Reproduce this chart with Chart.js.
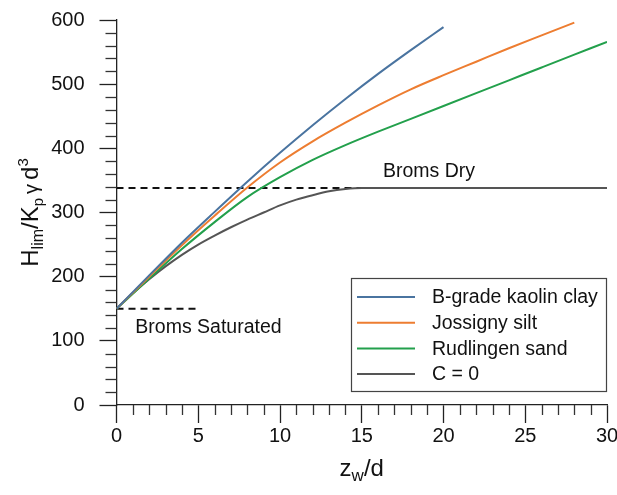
<!DOCTYPE html>
<html><head><meta charset="utf-8">
<script src="https://cdn.jsdelivr.net/npm/chart.js@4/dist/chart.umd.min.js"></script>
<style>html,body{margin:0;padding:0;background:#fff}#wrap{width:617px;height:495px;position:relative}</style>
</head><body><div id="wrap"><canvas id="c" width="617" height="495"></canvas></div>
<script>
// ---- data ----
const seriesNames = ['B-grade kaolin clay', 'Jossigny silt', 'Rudlingen sand', 'C = 0'];
const clayX = [0, 2, 4, 6, 8, 10, 12, 14, 16, 18, 20];
const clayY = [150, 202, 253, 301, 348, 393, 436, 477, 516, 553, 589];
const siltX = [0, 2, 4, 6, 8, 10, 12, 14, 16, 18, 20, 22, 24, 26, 28];
const siltY = [150, 200, 249, 295, 339, 378, 411, 440, 467, 492, 514, 535, 556, 576, 596];
const sandX = [0, 2, 4, 6, 8, 10, 12, 14, 16, 18, 20, 22, 24, 26, 28, 30];
const sandY = [150, 197, 243, 285, 324, 355, 382, 405, 426, 446, 466, 486, 506, 526, 546, 566];
const c0X = [0, 1, 2, 3, 4, 5, 6, 7, 8, 9, 10, 11, 12, 13, 14, 15, 16, 30];
const c0Y = [150, 174, 196, 216, 234, 250, 264, 277, 289, 300, 311, 320, 327, 333, 336.5, 338, 338, 338];
const bromsDryX = [0, 30];
const bromsDryY = [338, 338];
const bromsSatX = [0, 5];
const bromsSatY = [150, 150];
const xTickValues = [0, 5, 10, 15, 20, 25, 30];
const yTickValues = [0, 100, 200, 300, 400, 500, 600];
const bromsDryLabel = {text: 'Broms Dry', x: 16.3, y: 364};
const bromsSatLabel = {text: 'Broms Saturated', x: 1.15, y: 120};

const colors = ['#4a74a0', '#ed7d31', '#23a04c', '#555555'];
const FONT = 'Liberation Sans, Arial, sans-serif';
const toPts = (xs, ys) => xs.map((x, i) => ({x: x, y: ys[i]}));

const curveDs = (i, xs, ys) => ({
  label: seriesNames[i], data: toPts(xs, ys), borderColor: colors[i], backgroundColor: colors[i],
  borderWidth: 2, pointRadius: 0, fill: false, cubicInterpolationMode: 'monotone', order: 1
});
const dashDs = (xs, ys) => ({
  label: '', data: toPts(xs, ys), borderColor: '#111', borderWidth: 2, borderDash: [7, 5],
  pointRadius: 0, fill: false, order: 5
});

const decor = {
  id: 'decor',
  afterDraw(chart) {
    const ctx = chart.ctx, xs = chart.scales.x, ys = chart.scales.y, ca = chart.chartArea;
    ctx.save();
    // minor ticks
    ctx.strokeStyle = '#333'; ctx.lineWidth = 1.3;
    for (let v = 0; v <= 30; v++) {
      if (v % 5 === 0) continue;
      const px = Math.round(xs.getPixelForValue(v)) + 0.5;
      ctx.beginPath(); ctx.moveTo(px, ca.bottom); ctx.lineTo(px, ca.bottom + 10); ctx.stroke();
    }
    for (let v = 0; v <= 600; v += 20) {
      if (v % 100 === 0) continue;
      const py = Math.round(ys.getPixelForValue(v)) + 0.5;
      ctx.beginPath(); ctx.moveTo(ca.left, py); ctx.lineTo(ca.left - 11, py); ctx.stroke();
    }
    // annotations
    ctx.fillStyle = '#111'; ctx.font = '19.5px ' + FONT; ctx.textBaseline = 'middle'; ctx.textAlign = 'left';
    ctx.fillText(bromsDryLabel.text, xs.getPixelForValue(bromsDryLabel.x), ys.getPixelForValue(bromsDryLabel.y));
    ctx.fillText(bromsSatLabel.text, xs.getPixelForValue(bromsSatLabel.x), ys.getPixelForValue(bromsSatLabel.y));

    // legend box
    const L = 351, T = 278, R = 607, B = 392;
    ctx.fillStyle = '#fff'; ctx.fillRect(L, T, R - L, B - T);
    ctx.strokeStyle = '#444'; ctx.lineWidth = 1.2; ctx.strokeRect(L + 0.5, T + 0.5, R - L - 1, B - T - 1);
    seriesNames.forEach((n, i) => {
      const yy = 297 + i * 25.7;
      ctx.strokeStyle = colors[i]; ctx.lineWidth = 2;
      ctx.beginPath(); ctx.moveTo(357, yy); ctx.lineTo(415, yy); ctx.stroke();
      ctx.fillStyle = '#111'; ctx.font = '19.5px ' + FONT; ctx.textBaseline = 'middle';
      ctx.fillText(n, 432, yy + 1);
    });

    // axis titles with sub/superscripts
    const drawRich = (parts, cx, cy, rot) => {
      ctx.save(); ctx.translate(cx, cy); ctx.rotate(rot);
      let w = 0;
      parts.forEach(p => { ctx.font = p.s + 'px ' + FONT; p.w = ctx.measureText(p.t).width; w += p.w; });
      let x = -w / 2;
      ctx.textBaseline = 'alphabetic'; ctx.textAlign = 'left'; ctx.fillStyle = '#111';
      parts.forEach(p => { ctx.font = p.s + 'px ' + FONT; ctx.fillText(p.t, x, 8 + (p.dy || 0)); x += p.w; });
      ctx.restore();
    };
    drawRich([{t: 'z', s: 24}, {t: 'w', s: 17, dy: 5}, {t: '/d', s: 24}], (ca.left + ca.right) / 2, 468, 0);
    drawRich([{t: 'H', s: 24}, {t: 'lim', s: 16, dy: 5}, {t: '/K', s: 24}, {t: 'p', s: 15, dy: 5},
              {t: '\u2009\u03b3\u2009', s: 20}, {t: 'd', s: 24}, {t: '3', s: 15, dy: -10}],
             30, (ca.top + ca.bottom) / 2, -Math.PI / 2);
    ctx.restore();
  }
};

new Chart(document.getElementById('c'), {
  type: 'line',
  data: {
    datasets: [
      curveDs(0, clayX, clayY), curveDs(1, siltX, siltY), curveDs(2, sandX, sandY), curveDs(3, c0X, c0Y),
      dashDs(bromsDryX, bromsDryY), dashDs(bromsSatX, bromsSatY)
    ]
  },
  options: {
    responsive: false, animation: false, devicePixelRatio: 1,
    layout: {padding: {top: 20, right: 10, left: 0, bottom: 0}},
    plugins: {legend: {display: false}, tooltip: {enabled: false}, title: {display: false}},
    scales: {
      x: {
        type: 'linear', min: 0, max: 30,
        afterFit(s) { s.height = 90; s.paddingLeft = 0; s.paddingRight = 0; },
        afterBuildTicks(s) { s.ticks = xTickValues.map(v => ({value: v})); },
        grid: {drawOnChartArea: false, tickLength: 18, color: '#222', tickWidth: 1.3},
        border: {display: true, color: '#222', width: 1.3},
        ticks: {color: '#111', font: {size: 20, family: FONT}, padding: 1, maxRotation: 0}
      },
      y: {
        type: 'linear', min: 0, max: 600,
        afterFit(s) { s.width = 116.5; s.paddingTop = 0; s.paddingBottom = 0; },
        afterBuildTicks(s) { s.ticks = yTickValues.map(v => ({value: v})); },
        grid: {drawOnChartArea: false, tickLength: 17, color: '#222', tickWidth: 1.3},
        border: {display: true, color: '#222', width: 1.3},
        ticks: {color: '#111', font: {size: 20, family: FONT}, padding: 15}
      }
    }
  },
  plugins: [decor]
});
</script></body></html>
